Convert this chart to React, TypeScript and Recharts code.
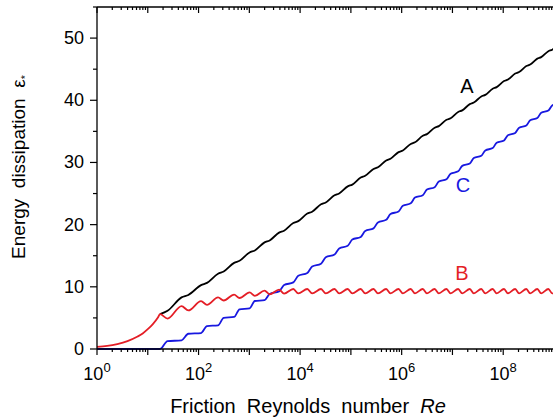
import { LineChart, Line, XAxis, YAxis } from "recharts";

// log10(Re) positions: laminar part, then the cusps and the points in between
const lgLaminar = [0, 0.2, 0.4, 0.6, 0.8, 0.9, 1.0, 1.1, 1.2];
const bLaminar = [0.35, 0.5, 0.8, 1.27, 2.0, 2.5, 3.2, 4.0, 5.05];
const cLaminar = [0, 0, 0, 0, 0, 0, 0, 0, 0];

const lgCusp = [1.241, 1.665, 2.049, 2.384, 2.7, 3.005, 3.3, 3.586, 3.866, 4.142, 4.412, 4.678, 4.938, 5.194, 5.446, 5.695, 5.939, 6.179, 6.416, 6.65, 6.883, 7.113, 7.342, 7.568, 7.793, 8.016, 8.236, 8.455, 8.672, 8.889, 9.103];
const lgMid = [1.389, 1.799, 2.166, 2.495, 2.807, 3.108, 3.4, 3.684, 3.963, 4.237, 4.505, 4.769, 5.028, 5.282, 5.533, 5.78, 6.023, 6.262, 6.498, 6.732, 6.964, 7.193, 7.421, 7.647, 7.871, 8.093, 8.313, 8.531, 8.748, 8.964];

const aCusp = [5.6, 8.3, 10.27, 12.11, 13.85, 15.53, 17.15, 18.72, 20.26, 21.78, 23.27, 24.73, 26.16, 27.57, 28.95, 30.32, 31.66, 32.98, 34.29, 35.58, 36.86, 38.12, 39.38, 40.62, 41.86, 43.09, 44.3, 45.5, 46.7, 47.89, 49.07];
const aMid = [6.14, 8.69, 10.64, 12.46, 14.19, 15.85, 17.46, 19.03, 20.56, 22.08, 23.56, 25.02, 26.44, 27.85, 29.22, 30.59, 31.92, 33.24, 34.55, 35.84, 37.11, 38.37, 39.63, 40.87, 42.11, 43.33, 44.54, 45.74, 46.94, 48.13];

const bCusp = [5.6, 6.9, 7.7, 8.3, 8.75, 9.1, 9.4, 9.55, 9.65, 9.65, 9.65, 9.65, 9.65, 9.65, 9.65, 9.65, 9.65, 9.65, 9.65, 9.65, 9.65, 9.65, 9.65, 9.65, 9.65, 9.65, 9.65, 9.65, 9.65, 9.65, 9.65];
const bMid = [4.9, 6.2, 7.1, 7.8, 8.2, 8.55, 8.8, 8.9, 8.95, 8.95, 8.95, 8.95, 8.95, 8.95, 8.95, 8.95, 8.95, 8.95, 8.95, 8.95, 8.95, 8.95, 8.95, 8.95, 8.95, 8.95, 8.95, 8.95, 8.95, 8.95];

const cCusp = [0, 1.4, 2.57, 3.81, 5.15, 6.53, 7.85, 9.27, 10.71, 12.23, 13.72, 15.18, 16.61, 18.02, 19.4, 20.77, 22.11, 23.43, 24.74, 26.03, 27.31, 28.57, 29.83, 31.07, 32.31, 33.54, 34.75, 35.95, 37.15, 38.34, 39.52];
const cMid = [1.26, 2.45, 3.69, 5.02, 6.39, 7.72, 8.84, 10.28, 11.77, 13.27, 14.74, 16.18, 17.6, 18.99, 20.36, 21.71, 23.03, 24.35, 25.64, 26.93, 28.19, 29.45, 30.7, 31.94, 33.17, 34.39, 35.59, 36.79, 37.98, 39.17];

const xDecades = [0, 1, 2, 3, 4, 5, 6, 7, 8];
const xMinor = [2, 3, 4, 5, 6, 7, 8, 9];
const yTicks = [0, 5, 10, 15, 20, 25, 30, 35, 40, 45, 50, 55];

const FONT = '"Liberation Sans", Arial, sans-serif';
const RED = "#e41e26";
const BLUE = "#1818e0";

function build(cusp: number[], mid: number[], lam?: number[]) {
  const rows: { x: number; y: number }[] = [];
  if (lam) lgLaminar.forEach((x, i) => rows.push({ x, y: lam[i] }));
  cusp.forEach((v, i) => {
    rows.push({ x: lgCusp[i], y: v });
    if (i < mid.length) rows.push({ x: lgMid[i], y: mid[i] });
  });
  return rows;
}

const seriesA = build(aCusp, aMid);
const seriesB = build(bCusp, bMid, bLaminar);
const seriesC = build(cCusp, cMid, cLaminar);

const xTicks: number[] = [];
xDecades.forEach((d) => {
  xTicks.push(d);
  xMinor.forEach((m) => xTicks.push(d + Math.log10(m)));
});
xTicks.push(9);

const isMajor = (v: number) => Math.abs(v - Math.round(v)) < 1e-6;

const BottomTick = ({ x, y, payload }: any) => {
  const v = payload.value;
  const major = isMajor(v);
  const n = Math.round(v);
  return (
    <g>
      <line x1={x} x2={x} y1={y} y2={y + (major ? 6 : 3)} stroke="#000" strokeWidth={1.2} />
      {major && n % 2 === 0 && n < 9 && (
        <text x={x} y={y + 31} textAnchor="middle" fontSize={18} fontFamily={FONT} fill="#000">
          10<tspan dy={-8} fontSize={13}>{n}</tspan>
        </text>
      )}
    </g>
  );
};

const TopTick = ({ x, y, payload }: any) => {
  const major = isMajor(payload.value);
  return <line x1={x} x2={x} y1={y} y2={y + (major ? 6 : 3)} stroke="#000" strokeWidth={1.2} />;
};

const LeftTick = ({ x, y, payload }: any) => {
  const v = payload.value;
  const major = v % 10 === 0;
  return (
    <g>
      <line x1={x} x2={x - (major ? 7 : 4)} y1={y} y2={y} stroke="#000" strokeWidth={1.2} />
      {major && (
        <text x={x - 13} y={y + 6} textAnchor="end" fontSize={18} fontFamily={FONT} fill="#000">
          {v}
        </text>
      )}
    </g>
  );
};

const RightTick = ({ x, y, payload }: any) => {
  const major = payload.value % 10 === 0;
  return <line x1={x} x2={x - (major ? 6 : 3)} y1={y} y2={y} stroke="#000" strokeWidth={1.2} />;
};

export default function App() {
  return (
    <div style={{ position: "absolute", left: 0, top: 0, width: 553, height: 418, overflow: "hidden", background: "#fff", fontFamily: FONT }}>
      <LineChart width={560} height={418} margin={{ top: 6, right: 5, bottom: 0, left: 0 }}>
        <XAxis dataKey="x" type="number" domain={[0, 9]} allowDataOverflow ticks={xTicks} interval={0} height={69}
          tickSize={0} tickMargin={0} tickLine={false} tick={BottomTick} axisLine={{ stroke: "#000", strokeWidth: 1.3 }} />
        <XAxis xAxisId="top" orientation="top" dataKey="x" type="number" domain={[0, 9]} allowDataOverflow ticks={xTicks} interval={0} height={1}
          tickSize={0} tickMargin={0} tickLine={false} tick={TopTick} axisLine={{ stroke: "#000", strokeWidth: 1.3 }} />
        <YAxis type="number" domain={[0, 55]} ticks={yTicks} interval={0} width={97}
          tickSize={0} tickMargin={0} tickLine={false} tick={LeftTick} axisLine={{ stroke: "#000", strokeWidth: 1.3 }} />
        <YAxis yAxisId="right" orientation="right" type="number" domain={[0, 55]} ticks={yTicks} interval={0} width={1}
          tickSize={0} tickMargin={0} tickLine={false} tick={RightTick} axisLine={{ stroke: "#000", strokeWidth: 1.3 }} />
        <Line data={seriesA} dataKey="y" type="monotoneX" stroke="#000" strokeWidth={1.8} dot={false} isAnimationActive={false} />
        <Line data={seriesC} dataKey="y" type="monotoneX" stroke={BLUE} strokeWidth={1.8} dot={false} isAnimationActive={false} />
        <Line data={seriesB} dataKey="y" type="monotoneX" stroke={RED} strokeWidth={1.8} dot={false} isAnimationActive={false} />
      </LineChart>
      <svg width={553} height={418} style={{ position: "absolute", left: 0, top: 0, pointerEvents: "none" }}>
        <text x={308} y={413} textAnchor="middle" fontSize={20} fontFamily={FONT} fill="#000">
          {"Friction\u00a0\u00a0Reynolds\u00a0\u00a0number\u00a0\u00a0"}
          <tspan fontStyle="italic">Re</tspan>
        </text>
        <text x={25} y={167} transform="rotate(-90 25 167)" textAnchor="middle" fontSize={19} fontFamily={FONT} fill="#000">
          {"Energy\u00a0\u00a0dissipation\u00a0\u00a0ε"}
          <tspan dy={4} fontSize={11}>*</tspan>
        </text>
        <text x={467} y={93} textAnchor="middle" fontSize={20} fontFamily={FONT} fill="#000">A</text>
        <text x={462} y={280} textAnchor="middle" fontSize={20} fontFamily={FONT} fill={RED}>B</text>
        <text x={463} y={192} textAnchor="middle" fontSize={20} fontFamily={FONT} fill={BLUE}>C</text>
      </svg>
    </div>
  );
}
